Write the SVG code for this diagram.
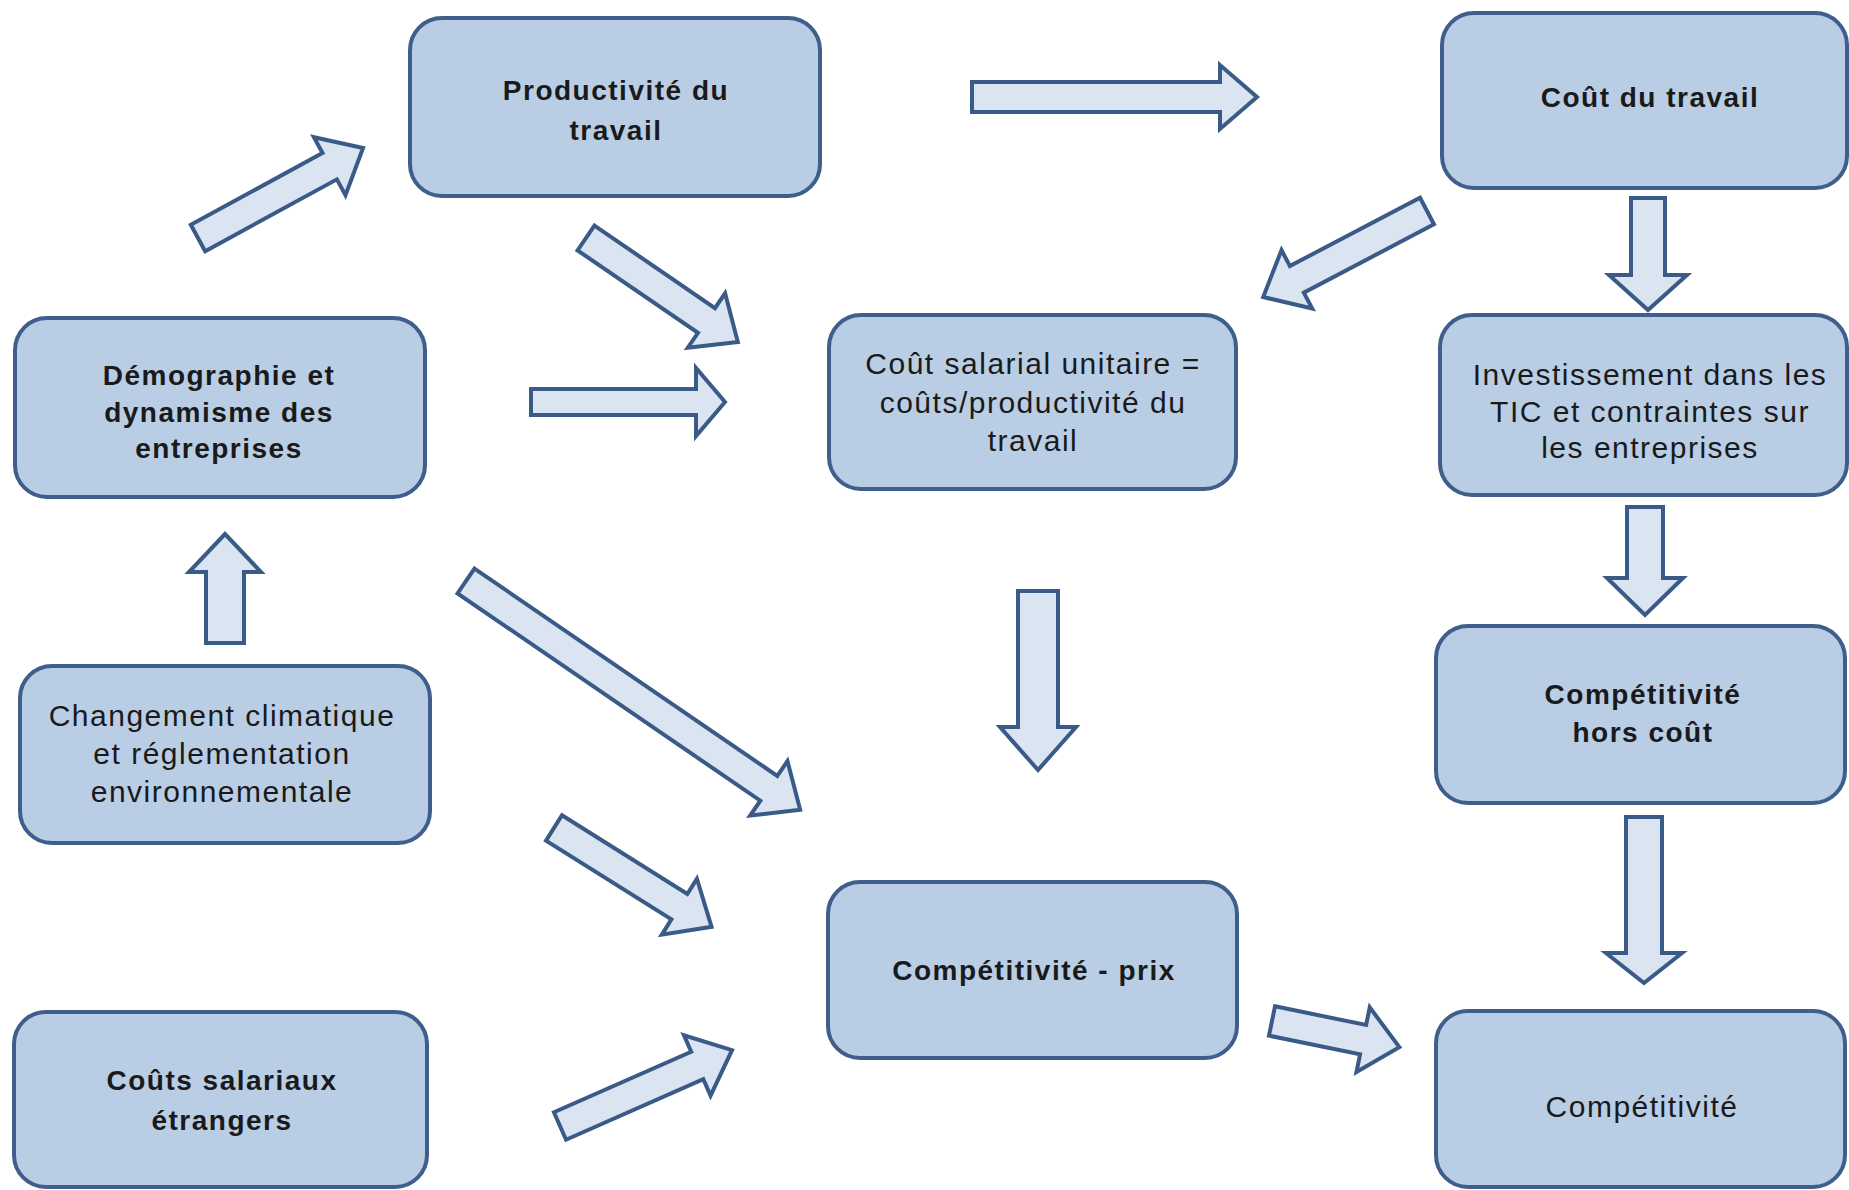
<svg xmlns="http://www.w3.org/2000/svg" width="1849" height="1190" viewBox="0 0 1849 1190">
<style>
.box{fill:#b9cde5;stroke:#3f5e8c;stroke-width:4}
.arr{fill:#dbe5f2;stroke:#3a5a88;stroke-width:4;stroke-linejoin:miter}
.t{font-family:"Liberation Sans",Arial,sans-serif;font-size:28px;fill:#1a1a1a;text-anchor:middle;letter-spacing:1.5px}
.b{font-weight:bold}
.r{font-size:30px}
</style>
<rect width="1849" height="1190" fill="#ffffff"/>
<g id="connectors">
  <path class="arr" transform="translate(972,97)" d="M0,-15 L248,-15 L248,-32 L285,0 L248,32 L248,15 L0,15 Z"/>
  <path class="arr" transform="translate(531,402)" d="M0,-13 L165,-13 L165,-34 L194,0 L165,34 L165,13 L0,13 Z"/>
  <path class="arr" transform="translate(198,238) rotate(-28.6)" d="M0,-15 L150,-15 L150,-33 L188,0 L150,33 L150,15 L0,15 Z"/>
  <path class="arr" transform="translate(586,238) rotate(34.4)" d="M0,-15 L146,-15 L146,-33 L184,0 L146,33 L146,15 L0,15 Z"/>
  <path class="arr" transform="translate(1427,211) rotate(152.3)" d="M0,-15 L147,-15 L147,-33 L185,0 L147,33 L147,15 L0,15 Z"/>
  <path class="arr" transform="translate(466,581) rotate(34.4)" d="M0,-15 L367,-15 L367,-33 L405,0 L367,33 L367,15 L0,15 Z"/>
  <path class="arr" transform="translate(554,828) rotate(32.1)" d="M0,-15 L148,-15 L148,-33 L186,0 L148,33 L148,15 L0,15 Z"/>
  <path class="arr" transform="translate(560,1126) rotate(-23.8)" d="M0,-15 L150,-15 L150,-33 L188,0 L150,33 L150,15 L0,15 Z"/>
  <path class="arr" transform="translate(1272,1021) rotate(11.6)" d="M0,-15 L93,-15 L93,-33 L130,0 L93,33 L93,15 L0,15 Z"/>
  <path class="arr" transform="translate(1648,198) rotate(90)" d="M0,-17 L77,-17 L77,-39 L112,0 L77,39 L77,17 L0,17 Z"/>
  <path class="arr" transform="translate(1645,507) rotate(90)" d="M0,-18 L71,-18 L71,-38 L108,0 L71,38 L71,18 L0,18 Z"/>
  <path class="arr" transform="translate(1644,817) rotate(90)" d="M0,-18 L136,-18 L136,-38 L166,0 L136,38 L136,18 L0,18 Z"/>
  <path class="arr" transform="translate(1038,591) rotate(90)" d="M0,-20 L136,-20 L136,-38 L179,0 L136,38 L136,20 L0,20 Z"/>
  <path class="arr" transform="translate(225,643) rotate(-90)" d="M0,-19 L71,-19 L71,-36 L109,0 L71,36 L71,19 L0,19 Z"/>
</g>
<g id="n-productivite">
  <rect class="box" x="410" y="18" width="410" height="178" rx="32"/>
  <text class="t b" x="616" y="100">Productivité du</text>
  <text class="t b" x="616" y="140">travail</text>
</g>
<g id="n-cout-travail">
  <rect class="box" x="1442" y="13" width="405" height="175" rx="32"/>
  <text class="t b" x="1650" y="107">Coût du travail</text>
</g>
<g id="n-demographie">
  <rect class="box" x="15" y="318" width="410" height="179" rx="32"/>
  <text class="t b" x="219" y="385">Démographie et</text>
  <text class="t b" x="219" y="422">dynamisme des</text>
  <text class="t b" x="219" y="458">entreprises</text>
</g>
<g id="n-cout-salarial">
  <rect class="box" x="829" y="315" width="407" height="174" rx="32"/>
  <text class="t r" x="1033" y="374">Coût salarial unitaire =</text>
  <text class="t r" x="1033" y="413">coûts/productivité du</text>
  <text class="t r" x="1033" y="451">travail</text>
</g>
<g id="n-investissement">
  <rect class="box" x="1440" y="315" width="407" height="180" rx="32"/>
  <text class="t r" x="1650" y="385">Investissement dans les</text>
  <text class="t r" x="1650" y="422">TIC et contraintes sur</text>
  <text class="t r" x="1650" y="458">les entreprises</text>
</g>
<g id="n-changement">
  <rect class="box" x="20" y="666" width="410" height="177" rx="32"/>
  <text class="t r" x="222" y="726">Changement climatique</text>
  <text class="t r" x="222" y="764">et réglementation</text>
  <text class="t r" x="222" y="802">environnementale</text>
</g>
<g id="n-hors-cout">
  <rect class="box" x="1436" y="626" width="409" height="177" rx="32"/>
  <text class="t b" x="1643" y="704">Compétitivité</text>
  <text class="t b" x="1643" y="742">hors coût</text>
</g>
<g id="n-prix">
  <rect class="box" x="828" y="882" width="409" height="176" rx="32"/>
  <text class="t b" x="1034" y="980">Compétitivité - prix</text>
</g>
<g id="n-couts-etrangers">
  <rect class="box" x="14" y="1012" width="413" height="175" rx="32"/>
  <text class="t b" x="222" y="1090">Coûts salariaux</text>
  <text class="t b" x="222" y="1130">étrangers</text>
</g>
<g id="n-competitivite">
  <rect class="box" x="1436" y="1011" width="409" height="176" rx="32"/>
  <text class="t r" x="1642" y="1117">Compétitivité</text>
</g>
</svg>
